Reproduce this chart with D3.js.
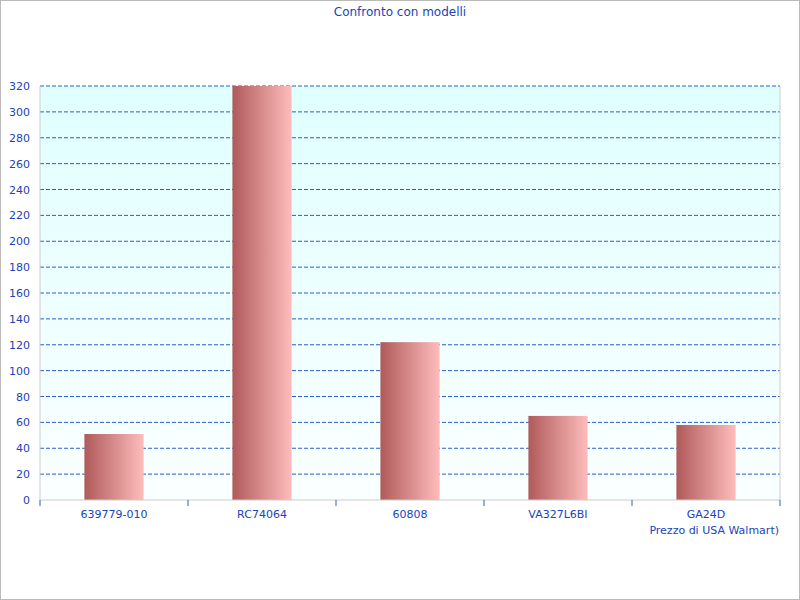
<!DOCTYPE html>
<html>
<head>
<script src="https://cdn.jsdelivr.net/npm/d3@7/dist/d3.min.js"></script>
<style>
body { margin: 0; }
text { font-family: "DejaVu Sans", sans-serif; fill: #1a44b8; }
</style>
</head>
<body>
<script>
var categories = ["639779-010", "RC74064", "60808", "VA327L6BI", "GA24D"];
var prices = [51, 320, 122, 65, 58];
var yTicks = d3.range(0, 321, 20);

var svg = d3.select("body").append("svg").attr("width", 800).attr("height", 600);
var defs = svg.append("defs");
var bg = defs.append("linearGradient").attr("id", "bg").attr("x1", 0).attr("y1", 0).attr("x2", 0).attr("y2", 1);
bg.append("stop").attr("offset", "0%").attr("stop-color", "#e0ffff");
bg.append("stop").attr("offset", "100%").attr("stop-color", "#fbffff");
var bar = defs.append("linearGradient").attr("id", "bar");
bar.append("stop").attr("offset", "0%").attr("stop-color", "#b05a5a");
bar.append("stop").attr("offset", "100%").attr("stop-color", "#ffbcbc");

svg.append("rect").attr("x", 0.5).attr("y", 0.5).attr("width", 799).attr("height", 599)
   .attr("fill", "white").attr("stroke", "#bbb");

var pLeft = 40, pRight = 780, pTop = 86, pBottom = 500;
var x = d3.scaleBand().domain(categories).range([pLeft, pRight]).paddingInner(0.6).paddingOuter(0.3);
var xo = d3.scaleBand().domain(categories).range([pLeft, pRight]);
var y = d3.scaleLinear().domain([0, 320]).range([pBottom, pTop]);

svg.append("rect").attr("x", pLeft).attr("y", pTop).attr("width", pRight - pLeft).attr("height", pBottom - pTop).attr("fill", "url(#bg)");

svg.selectAll("line.grid").data(yTicks.slice(1)).enter().append("line")
   .attr("x1", pLeft).attr("x2", pRight).attr("y1", y).attr("y2", y)
   .attr("stroke", "#2a5cd0").attr("stroke-dasharray", "4,2");

svg.selectAll("rect.bar").data(prices).enter().append("rect")
   .attr("x", function(d, i) { return x(categories[i]); })
   .attr("y", function(d) { return y(d); })
   .attr("width", x.bandwidth())
   .attr("height", function(d) { return pBottom - y(d); })
   .attr("fill", "url(#bar)");

svg.append("line").attr("x1", pLeft).attr("x2", pLeft).attr("y1", pTop).attr("y2", pBottom).attr("stroke", "#ccc");
svg.append("line").attr("x1", pRight).attr("x2", pRight).attr("y1", pTop).attr("y2", pBottom).attr("stroke", "#ccc");
svg.append("line").attr("x1", pLeft).attr("x2", pRight).attr("y1", pBottom).attr("y2", pBottom).attr("stroke", "#ccc");

svg.selectAll("text.y").data(yTicks).enter().append("text")
   .attr("x", pLeft - 10).attr("y", function(d) { return y(d) + 4; })
   .attr("text-anchor", "end").attr("font-size", 11).text(function(d) { return d; });

svg.selectAll("line.xt").data(categories.concat(["end"])).enter().append("line")
   .attr("x1", function(d, i) { return pLeft + i * xo.step(); })
   .attr("x2", function(d, i) { return pLeft + i * xo.step(); })
   .attr("y1", pBottom).attr("y2", pBottom + 6).attr("stroke", "#2a5cd0");

svg.selectAll("text.x").data(categories).enter().append("text")
   .attr("x", function(d) { return xo(d) + xo.bandwidth() / 2; }).attr("y", 518)
   .attr("text-anchor", "middle").attr("font-size", 11).text(function(d) { return d; });

svg.append("text").attr("x", 779).attr("y", 534).attr("text-anchor", "end").attr("font-size", 11)
   .text("Prezzo di USA Walmart)");
svg.append("text").attr("x", 400).attr("y", 16).attr("text-anchor", "middle").attr("font-size", 12)
   .text("Confronto con modelli");
</script>
</body>
</html>
